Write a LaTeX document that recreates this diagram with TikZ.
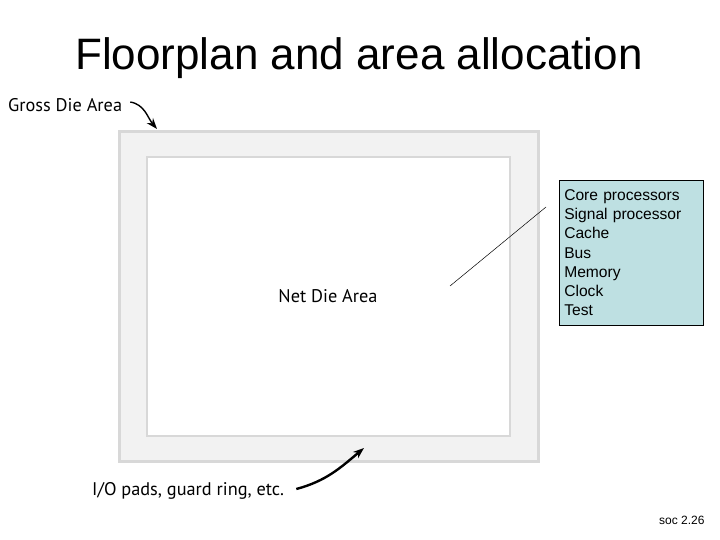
\documentclass[tikz,border=0pt]{standalone}
\usepackage{fontspec}
\setmainfont{Liberation Sans}
\newfontfamily\labelfont{PT Sans}
\usetikzlibrary{arrows.meta,positioning}
\definecolor{ringgray}{RGB}{242,242,242}
\definecolor{edgegray}{RGB}{216,216,216}
\definecolor{boxcyan}{RGB}{190,224,226}
\tikzset{
  labeltext/.style={font=\labelfont\fontsize{18.3}{21}\selectfont, inner sep=0pt},
  pointer/.style={-{Stealth[length=11pt,width=8pt]}, line width=2.4pt},
}
\begin{document}
\begin{tikzpicture}[x=1pt,y=-1pt]
\useasboundingbox (0,0) rectangle (720,540);

% title
\node (title) at (359,58) {\fontsize{44}{48}\selectfont Floorplan and area allocation};

% die outline
\draw [fill=ringgray, draw=edgegray, line width=3pt] (119,132) rectangle (538,461);
\draw [fill=white, draw=edgegray, line width=2pt] (147,157) rectangle (510,436);
\node [labeltext] (net) at (328,296) {Net Die Area};

% block list
\node [draw=black, line width=0.6pt, fill=boxcyan, anchor=north west, align=left,
       font=\fontsize{15.6}{19.2}\selectfont, inner xsep=5pt, inner ysep=3.5pt,
       minimum width=144pt, minimum height=145pt, text width=134pt] (blocks) at (559,180)
  {Core processors\\ Signal processor\\ Cache\\ Bus\\ Memory\\ Clock\\ Test};
\coordinate (lead) at (450,286);
\coordinate (leadend) at (546,207);
\draw [line width=0.5pt] (lead) -- (leadend);

% labels and pointers
\node [labeltext, anchor=west] (gross) at (8,105) {Gross Die Area};
\coordinate (grosstip) at (157,129);
\draw [pointer, line width=1.4pt] (gross.east) ++(8,-3) to[out=-10,in=130] (grosstip);

\node [labeltext, anchor=west] (pads) at (92,491) {I/O pads, guard ring, etc.};
\coordinate (padstip) at (364,448);
\draw [pointer] (pads.east) ++(12,-2) to[out=15,in=-140] (padstip);

\node [font=\fontsize{12}{14}\selectfont, anchor=east] (page) at (708,520) {soc 2.26};
\end{tikzpicture}
\end{document}
